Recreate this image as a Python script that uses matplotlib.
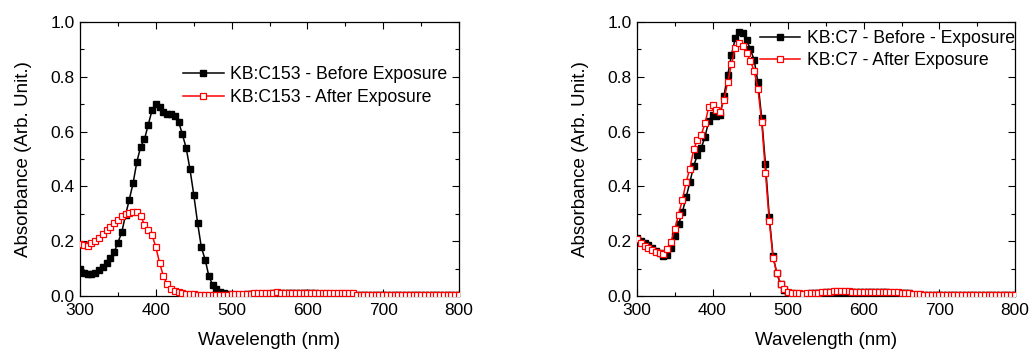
import numpy as np
import matplotlib
matplotlib.use('Agg')
import matplotlib.pyplot as plt
from matplotlib.ticker import MultipleLocator, FormatStrFormatter

plt.rcParams['font.family'] = ['Liberation Sans', 'DejaVu Sans']

# wavelength grid (nm)
wavelength = np.arange(300, 801, 5)

# KB:C153
c153_before = [
    0.100, 0.085, 0.079, 0.080, 0.085, 0.093, 0.105, 0.120, 0.140, 0.160,
    0.195, 0.232, 0.295, 0.352, 0.412, 0.490, 0.545, 0.572, 0.625, 0.678,
    0.700, 0.688, 0.672, 0.665, 0.664, 0.658, 0.636, 0.590, 0.540, 0.463,
    0.370, 0.268, 0.178, 0.133, 0.072, 0.040, 0.024, 0.014, 0.009, 0.006,
    0.005,
    0.005, 0.005, 0.005, 0.006, 0.006, 0.006, 0.007, 0.007, 0.008, 0.008,
    0.009, 0.010, 0.010, 0.009, 0.009, 0.009, 0.009, 0.009, 0.009, 0.009,
    0.009, 0.009, 0.008, 0.008, 0.008, 0.008, 0.008, 0.008, 0.008, 0.008,
    0.008, 0.007, 0.004, 0.004, 0.004, 0.004, 0.004, 0.004, 0.004, 0.004,
    0.003, 0.003, 0.003, 0.003, 0.003, 0.003, 0.003, 0.003, 0.003, 0.003,
    0.003, 0.003, 0.003, 0.003, 0.003, 0.003, 0.003, 0.003, 0.003, 0.003,
]
c153_after = [
    0.189, 0.186, 0.183, 0.193, 0.200, 0.212, 0.225, 0.240, 0.252, 0.268,
    0.279, 0.291, 0.298, 0.303, 0.306, 0.308, 0.292, 0.260, 0.240, 0.223,
    0.178, 0.120, 0.072, 0.042, 0.026, 0.018, 0.014, 0.011, 0.008, 0.007,
    0.006, 0.005, 0.005, 0.005, 0.005, 0.005, 0.005, 0.005, 0.005, 0.005,
    0.006,
    0.006, 0.007, 0.007, 0.008, 0.008, 0.009, 0.009, 0.010, 0.010, 0.011,
    0.012, 0.013, 0.012, 0.011, 0.011, 0.011, 0.011, 0.011, 0.011, 0.011,
    0.011, 0.011, 0.011, 0.010, 0.010, 0.010, 0.010, 0.010, 0.010, 0.010,
    0.010, 0.009, 0.005, 0.005, 0.005, 0.005, 0.005, 0.005, 0.004, 0.004,
    0.004, 0.004, 0.004, 0.004, 0.004, 0.004, 0.003, 0.003, 0.003, 0.003,
    0.003, 0.003, 0.003, 0.003, 0.003, 0.003, 0.003, 0.003, 0.003, 0.003,
]

# KB:C7
c7_before = [
    0.210, 0.200, 0.192, 0.185, 0.175, 0.165, 0.155, 0.146, 0.150, 0.174,
    0.218, 0.262, 0.305, 0.360, 0.415, 0.474, 0.515, 0.540, 0.580, 0.640,
    0.660, 0.658, 0.660, 0.730, 0.805, 0.880, 0.940, 0.962, 0.958, 0.935,
    0.900, 0.862, 0.780, 0.650, 0.480, 0.290, 0.145, 0.082, 0.042, 0.022,
    0.012,
    0.009, 0.008, 0.007, 0.007, 0.008, 0.009, 0.010, 0.011, 0.012, 0.013,
    0.014, 0.015, 0.015, 0.015, 0.015, 0.015, 0.015, 0.015, 0.014, 0.014,
    0.014, 0.014, 0.013, 0.013, 0.013, 0.013, 0.012, 0.012, 0.012, 0.011,
    0.011, 0.010, 0.005, 0.005, 0.005, 0.005, 0.004, 0.004, 0.004, 0.004,
    0.004, 0.004, 0.004, 0.003, 0.003, 0.003, 0.003, 0.003, 0.003, 0.003,
    0.003, 0.003, 0.003, 0.003, 0.003, 0.003, 0.003, 0.003, 0.003, 0.003,
]
c7_after = [
    0.208, 0.195, 0.182, 0.176, 0.167, 0.161, 0.155, 0.153, 0.170, 0.198,
    0.243, 0.296, 0.350, 0.415, 0.465, 0.535, 0.570, 0.588, 0.630, 0.690,
    0.697, 0.677, 0.673, 0.715, 0.780, 0.845, 0.905, 0.922, 0.912, 0.886,
    0.858, 0.822, 0.755, 0.635, 0.450, 0.274, 0.140, 0.085, 0.045, 0.024,
    0.015,
    0.011, 0.010, 0.009, 0.008, 0.009, 0.010, 0.011, 0.012, 0.013, 0.014,
    0.015, 0.017, 0.017, 0.017, 0.017, 0.017, 0.016, 0.016, 0.016, 0.016,
    0.016, 0.015, 0.015, 0.015, 0.014, 0.014, 0.014, 0.013, 0.013, 0.012,
    0.012, 0.012, 0.006, 0.006, 0.006, 0.005, 0.005, 0.005, 0.005, 0.005,
    0.005, 0.004, 0.004, 0.004, 0.004, 0.004, 0.004, 0.004, 0.003, 0.003,
    0.003, 0.003, 0.003, 0.003, 0.003, 0.003, 0.003, 0.003, 0.003, 0.003,
]

panels = [
    (c153_before, c153_after,
     'KB:C153 - Before Exposure', 'KB:C153 - After Exposure', (0.272, 0.766)),
    (c7_before, c7_after,
     'KB:C7 - Before - Exposure', 'KB:C7 - After Exposure', (0.325, 0.899)),
]

fig = plt.figure(figsize=(10.30, 3.49), dpi=100)
axes = [fig.add_axes([0.0777, 0.152, 0.368, 0.785]),
        fig.add_axes([0.6184, 0.152, 0.367, 0.785])]

for ax, (before, after, lab_b, lab_a, anchor) in zip(axes, panels):
    ax.plot(wavelength, before, color='black', lw=1.1, marker='s', ms=4.6,
            mfc='black', mec='black', label=lab_b, zorder=2)
    ax.plot(wavelength, after, color='red', lw=1.1, marker='s', ms=4.3,
            mfc='white', mec='red', mew=0.9, label=lab_a, zorder=3)
    ax.set_xlim(300, 800)
    ax.set_ylim(0, 1.0)
    ax.xaxis.set_major_locator(MultipleLocator(100))
    ax.xaxis.set_minor_locator(MultipleLocator(50))
    ax.yaxis.set_major_locator(MultipleLocator(0.2))
    ax.yaxis.set_minor_locator(MultipleLocator(0.1))
    ax.yaxis.set_major_formatter(FormatStrFormatter('%.1f'))
    ax.tick_params(which='both', direction='in', top=True, right=True,
                   labelsize=12.5, width=0.8)
    ax.tick_params(which='major', length=5)
    ax.tick_params(which='minor', length=3)
    ax.tick_params(axis='x', which='major', pad=5)
    ax.tick_params(axis='y', which='major', pad=4)
    for s in ax.spines.values():
        s.set_linewidth(0.9)
    ax.set_xlabel('Wavelength (nm)', fontsize=13.5, labelpad=10)
    ax.set_ylabel('Absorbance (Arb. Unit.)', fontsize=13.5, labelpad=13)
    ax.legend(loc='center left', bbox_to_anchor=anchor, frameon=False,
              fontsize=12.7, borderpad=0, borderaxespad=0, handlelength=2.3,
              handletextpad=0.35, labelspacing=0.32)

fig.savefig('out.png', dpi=100)
